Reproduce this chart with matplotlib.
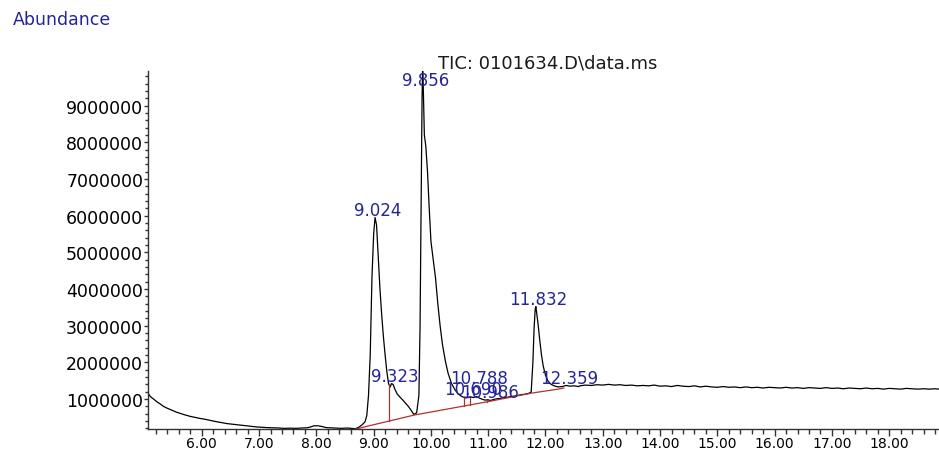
import numpy as np
import matplotlib
matplotlib.use("Agg")
import matplotlib.pyplot as plt
from matplotlib.ticker import MultipleLocator, FuncFormatter

# retention time (min) and abundance (millions)
rt = [5.06, 5.10, 5.14, 5.18, 5.22, 5.27, 5.32, 5.38, 5.44, 5.50, 5.56, 5.62,
      5.70, 5.79, 5.88, 5.97, 6.05, 6.14, 6.23, 6.33, 6.44, 6.55, 6.67, 6.76,
      6.84, 6.95, 7.05, 7.15, 7.24, 7.34, 7.44, 7.54, 7.64, 7.74, 7.84, 7.90,
      7.96, 8.03, 8.10, 8.17, 8.24, 8.34, 8.44, 8.54, 8.62, 8.68, 8.74, 8.80,
      8.85, 8.88, 8.91, 8.94, 8.97, 9.00, 9.024, 9.05, 9.08, 9.11, 9.14, 9.17,
      9.20, 9.23, 9.26, 9.29, 9.31, 9.34, 9.37, 9.41, 9.46, 9.51, 9.56, 9.61,
      9.66, 9.70, 9.75, 9.79, 9.81, 9.83, 9.845, 9.856, 9.87, 9.885, 9.91, 9.94,
      9.97, 10.00, 10.04, 10.08, 10.12, 10.16, 10.20, 10.25, 10.30, 10.36, 10.42,
      10.48, 10.54, 10.60, 10.65, 10.69, 10.74, 10.79, 10.84, 10.90, 10.95,
      10.99, 11.04, 11.10, 11.16, 11.22, 11.28, 11.34, 11.40, 11.46, 11.52,
      11.58, 11.64, 11.70, 11.75, 11.78, 11.80, 11.82, 11.832, 11.85, 11.87,
      11.90, 11.93, 11.96, 12.00, 12.04, 12.09, 12.15, 12.22, 12.29, 12.36,
      12.43, 12.50, 12.58, 12.6, 12.7, 12.8, 12.9, 13.0, 13.1, 13.2, 13.3, 13.4,
      13.5, 13.6, 13.7, 13.8, 13.9, 14.0, 14.1, 14.2, 14.3, 14.4, 14.5, 14.6,
      14.7, 14.8, 14.9, 15.0, 15.1, 15.2, 15.3, 15.4, 15.5, 15.6, 15.7, 15.8,
      15.9, 16.0, 16.1, 16.2, 16.3, 16.4, 16.5, 16.6, 16.7, 16.8, 16.9, 17.0,
      17.1, 17.2, 17.3, 17.4, 17.5, 17.6, 17.7, 17.8, 17.9, 18.0, 18.1, 18.2,
      18.3, 18.4, 18.5, 18.6, 18.7, 18.8, 18.87]
abund = [1.16, 1.07, 1.02, 0.97, 0.92, 0.87, 0.81, 0.76, 0.72, 0.68, 0.64, 0.61,
         0.57, 0.53, 0.50, 0.47, 0.45, 0.42, 0.39, 0.36, 0.33, 0.31, 0.29, 0.27,
         0.26, 0.24, 0.23, 0.22, 0.215, 0.21, 0.20, 0.205, 0.20, 0.21, 0.215, 0.24,
         0.27, 0.27, 0.25, 0.22, 0.215, 0.21, 0.20, 0.21, 0.20, 0.19, 0.23, 0.30,
         0.38, 0.55, 1.10, 2.20, 4.30, 5.50, 5.95, 5.75, 4.90, 4.00, 3.30, 2.70,
         2.20, 1.75, 1.42, 1.33, 1.42, 1.40, 1.27, 1.14, 1.05, 0.97, 0.88, 0.79,
         0.68, 0.58, 0.62, 1.10, 3.00, 6.50, 9.20, 10.2, 9.20, 8.20, 7.90, 7.20,
         6.20, 5.30, 4.80, 4.30, 3.60, 3.00, 2.50, 2.05, 1.70, 1.42, 1.25,
         1.13, 1.07, 1.03, 1.04, 1.06, 1.04, 1.07, 1.03, 0.99, 0.97,
         0.98, 0.96, 0.99, 1.01, 1.02, 1.04, 1.05, 1.07, 1.08, 1.10,
         1.12, 1.13, 1.15, 1.19, 2.00, 2.90, 3.45, 3.52, 3.30, 3.05,
         2.60, 2.20, 1.90, 1.65, 1.50, 1.41, 1.36, 1.33, 1.34, 1.37,
         1.35, 1.36, 1.34, 1.36, 1.38, 1.37, 1.39, 1.38, 1.40, 1.38, 1.39, 1.37,
         1.38, 1.36, 1.37, 1.36, 1.38, 1.35, 1.36, 1.34, 1.37, 1.35, 1.34, 1.36,
         1.33, 1.35, 1.33, 1.32, 1.34, 1.32, 1.33, 1.31, 1.33, 1.31, 1.32, 1.30,
         1.32, 1.31, 1.30, 1.32, 1.30, 1.31, 1.29, 1.31, 1.30, 1.29, 1.31, 1.29,
         1.30, 1.28, 1.30, 1.29, 1.28, 1.30, 1.28, 1.29, 1.27, 1.29, 1.28, 1.27,
         1.29, 1.28, 1.27, 1.28, 1.27, 1.28, 1.27]

# integration baseline (red) and drop lines
base_rt = [8.68, 9.70, 11.00, 11.75, 12.22, 12.32]
base_abund = [0.18, 0.56, 0.93, 1.16, 1.27, 1.30]
drop_rt = [9.27, 10.58, 10.69, 10.97]

# labelled peaks
peak_rt = [9.024, 9.323, 9.856, 10.690, 10.788, 10.986, 11.832, 12.359]

title = "TIC: 0101634.D\\data.ms"

blue = "#24249c"
red = "#b03030"
axis_col = "#333333"

fig = plt.figure(figsize=(9.39, 4.52), dpi=100)
ax = fig.add_axes([0.1576, 0.0487, 0.8424, 0.7920])

t = np.array(rt)
y = np.array(abund) * 1e6
ax.plot(t, y, color="black", lw=0.9)

bt = np.array(base_rt)
by = np.array(base_abund) * 1e6
ax.plot(bt, by, color=red, lw=0.9)
for d in drop_rt:
    ax.plot([d, d], [np.interp(d, bt, by), np.interp(d, t, y)], color=red, lw=0.9)

ymin, ymax = 0.183e6, 9.945e6
ax.set_xlim(5.06, 18.87)
ax.set_ylim(ymin, ymax)

# peak labels: small peaks that crowd each other get pushed up
bump = {10.788: 8}
for p in peak_rt:
    v = np.interp(p, t, y)
    if v > ymax:
        ax.annotate(f"{p:.3f}", xy=(p, ymax), xytext=(2, 0), textcoords="offset points",
                    ha="center", va="top", color=blue, fontsize=12)
    else:
        ax.annotate(f"{p:.3f}", xy=(p, v), xytext=(2, 2 + bump.get(p, 0)),
                    textcoords="offset points", ha="center", va="baseline",
                    color=blue, fontsize=12)

ax.spines["top"].set_visible(False)
ax.spines["right"].set_visible(False)
for s in ("left", "bottom"):
    ax.spines[s].set_linewidth(1.0)
    ax.spines[s].set_color(axis_col)

ax.xaxis.set_major_locator(MultipleLocator(1.0))
ax.xaxis.set_minor_locator(MultipleLocator(0.2))
ax.xaxis.set_major_formatter(FuncFormatter(lambda v, pos: f"{v:.2f}"))
ax.yaxis.set_major_locator(MultipleLocator(1e6))
ax.yaxis.set_minor_locator(MultipleLocator(2e5))
ax.yaxis.set_major_formatter(FuncFormatter(lambda v, pos: f"{int(round(v))}"))

ax.tick_params(axis="x", which="major", length=5, width=1, pad=0, labelsize=10, color=axis_col)
ax.tick_params(axis="x", which="minor", length=3.5, width=1, color=axis_col)
ax.tick_params(axis="y", which="major", length=3, width=1, pad=0.5, labelsize=12.5, color=axis_col)
ax.tick_params(axis="y", which="minor", length=2, width=1, color=axis_col)

fig.text(13 / 939, 1 - 25 / 452, "Abundance", color=blue, fontsize=12.5, va="baseline")
fig.text(438 / 939, 1 - 68 / 452, title, color="#1a1a1a", fontsize=13, va="baseline")

fig.savefig("out.png", dpi=100)
